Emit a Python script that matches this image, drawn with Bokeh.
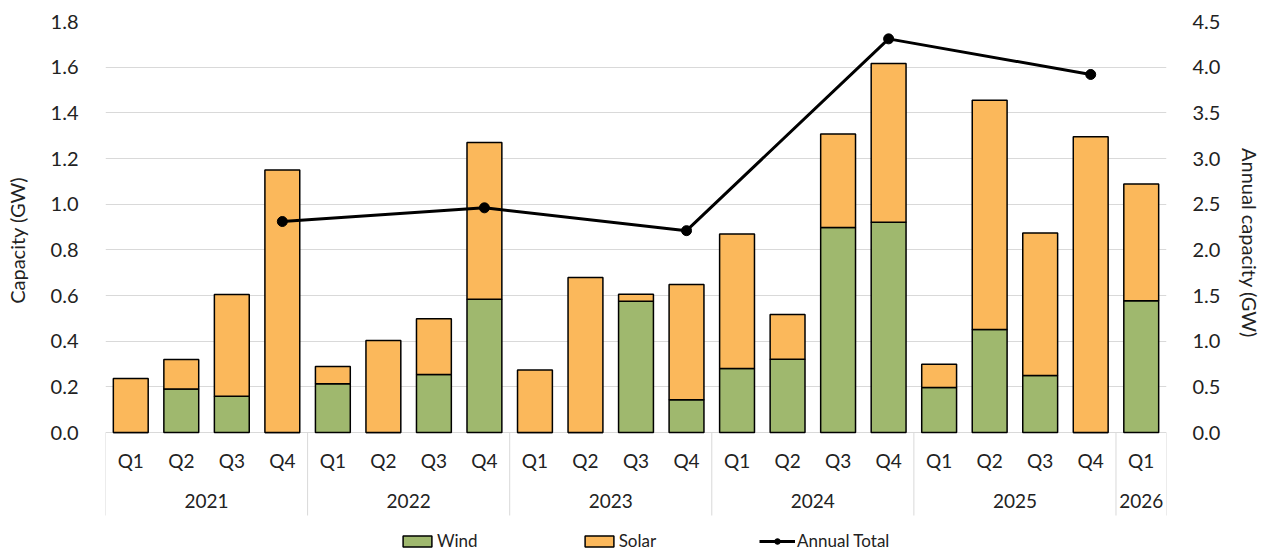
import numpy as np
from bokeh.plotting import figure
from bokeh.models import (FactorRange, Range1d, LinearAxis, FixedTicker,
                          NumeralTickFormatter, ColumnDataSource, Legend,
                          LegendItem)
from bokeh.core.properties import value
from bokeh.embed import file_html
from bokeh.resources import INLINE

# ---- data ---------------------------------------------------------------
years = ["2021"] * 4 + ["2022"] * 4 + ["2023"] * 4 + ["2024"] * 4 + ["2025"] * 4 + ["2026"]
quarters = ["Q1", "Q2", "Q3", "Q4"] * 5 + ["Q1"]

wind = [0.000, 0.190, 0.159, 0.000,
        0.213, 0.000, 0.254, 0.584,
        0.000, 0.000, 0.575, 0.143,
        0.280, 0.321, 0.898, 0.921,
        0.197, 0.451, 0.250, 0.000,
        0.577]
solar = [0.236, 0.130, 0.445, 1.150,
         0.076, 0.403, 0.244, 0.686,
         0.274, 0.679, 0.031, 0.505,
         0.589, 0.196, 0.409, 0.695,
         0.102, 1.004, 0.624, 1.295,
         0.511]

annual_years = ["2021", "2022", "2023", "2024", "2025"]
annual_total = [2.31, 2.46, 2.21, 4.31, 3.92]

left_ticks = [0.0, 0.2, 0.4, 0.6, 0.8, 1.0, 1.2, 1.4, 1.6, 1.8]
right_ticks = [0.0, 0.5, 1.0, 1.5, 2.0, 2.5, 3.0, 3.5, 4.0, 4.5]

# ---- layout constants (pixels) ------------------------------------------
W, H = 1265, 551
FRAME_L, FRAME_R, FRAME_T = 105, 1166, 21
ZERO_PX = 432            # baseline of the bars
SEP_BOTTOM_PX = 515      # lower end of the category separators
QLABEL_PX, YLABEL_PX = 460, 500

LEFT_MAX, RIGHT_MAX = 1.8, 4.5
ratio = RIGHT_MAX / LEFT_MAX
per_px = LEFT_MAX / (ZERO_PX - FRAME_T)
def px_to_left(py):
    return (ZERO_PX - py) * per_px

y_start = px_to_left(H)
right_start = y_start * ratio

GREEN = "#9FB86E"
ORANGE = "#FBB85B"
GRID = "#D9D9D9"
TEXT = "#222222"
FONT = "Lato"
TICK_SIZE = "20px"
CAT_SIZE = "19px"
TITLE_SIZE = "20px"

# The frame runs down to the legend, so axis titles are nudged up to sit
# beside the 0-1.8 value band with non-breaking padding.
NBSP = "\u00a0"
left_title = NBSP * 18 + "Capacity (GW)"
right_title = "Annual capacity (GW)" + NBSP * 17

factors = list(zip(years, quarters))
x_range = FactorRange(*factors, range_padding=0, group_padding=0,
                      subgroup_padding=0, factor_padding=0)

p = figure(width=W, height=H, x_range=x_range,
           y_range=Range1d(y_start, LEFT_MAX),
           x_axis_location=None,
           output_backend="svg", toolbar_location=None,
           min_border_left=FRAME_L, min_border_right=W - FRAME_R,
           min_border_top=FRAME_T, min_border_bottom=0)
p.outline_line_color = None
p.background_fill_color = "white"
p.xgrid.visible = False

# left axis
yax = p.yaxis[0]
yax.ticker = FixedTicker(ticks=left_ticks)
yax.formatter = NumeralTickFormatter(format="0.0")
yax.axis_line_color = None
yax.major_tick_line_color = None
yax.minor_tick_line_color = None
yax.major_label_standoff = 21
yax.major_label_text_font = FONT
yax.major_label_text_font_size = TICK_SIZE
yax.major_label_text_color = TEXT
yax.axis_label = left_title
yax.axis_label_standoff = 19
yax.axis_label_text_font = FONT
yax.axis_label_text_font_size = TITLE_SIZE
yax.axis_label_text_font_style = "normal"
yax.axis_label_text_color = TEXT

p.ygrid.ticker = FixedTicker(ticks=left_ticks)
p.ygrid.grid_line_color = GRID
p.ygrid.grid_line_width = 1

# right axis for the annual totals
p.extra_y_ranges = {"annual": Range1d(right_start, RIGHT_MAX)}
rax = LinearAxis(y_range_name="annual",
                 ticker=FixedTicker(ticks=right_ticks),
                 formatter=NumeralTickFormatter(format="0.0"))
rax.axis_line_color = None
rax.major_tick_line_color = None
rax.minor_tick_line_color = None
rax.major_label_standoff = 20
rax.major_label_text_font = FONT
rax.major_label_text_font_size = TICK_SIZE
rax.major_label_text_color = TEXT
rax.axis_label = right_title
rax.axis_label_standoff = 15
rax.axis_label_text_font = FONT
rax.axis_label_text_font_size = TITLE_SIZE
rax.axis_label_text_font_style = "normal"
rax.axis_label_text_color = TEXT
p.add_layout(rax, "right")

# stacked quarterly bars
src = ColumnDataSource(dict(x=factors, wind=wind, solar=solar))
bars = p.vbar_stack(["wind", "solar"], x="x", width=0.69, source=src,
                    fill_color=[GREEN, ORANGE], line_color="black",
                    line_width=1.5)

# annual total line, plotted at each year's Q4
ann_src = ColumnDataSource(dict(x=[(y, "Q4") for y in annual_years],
                                total=annual_total))
line = p.line("x", "total", source=ann_src, y_range_name="annual",
              line_color="black", line_width=3)
dots = p.scatter("x", "total", source=ann_src, y_range_name="annual",
                 size=10, fill_color="black", line_color="black")

# two-level category labels with separators
group_names = list(dict.fromkeys(years))
group_sizes = [years.count(g) for g in group_names]
bounds = np.concatenate([[0], np.cumsum(group_sizes)]).astype(float)
sep_bottom = px_to_left(SEP_BOTTOM_PX)
p.segment(x0=bounds, x1=bounds, y0=[0.0] * len(bounds),
          y1=[sep_bottom] * len(bounds), line_color=GRID, line_width=1)

p.text(x=factors, y=[px_to_left(QLABEL_PX)] * len(factors), text=quarters,
       text_align="center", text_baseline="middle",
       text_font=value(FONT), text_font_size=CAT_SIZE, text_color=TEXT)
p.text(x=group_names, y=[px_to_left(YLABEL_PX)] * len(group_names),
       text=group_names, text_align="center", text_baseline="middle",
       text_font=value(FONT), text_font_size=CAT_SIZE, text_color=TEXT)

legend = Legend(items=[LegendItem(label="Wind", renderers=[bars[0]]),
                       LegendItem(label="Solar", renderers=[bars[1]]),
                       LegendItem(label="Annual Total", renderers=[line, dots])],
                orientation="horizontal", location=(294, 0),
                background_fill_alpha=0, border_line_color=None,
                padding=0, margin=0, spacing=103,
                glyph_width=36, glyph_height=14, label_standoff=2,
                label_text_font=FONT, label_text_font_size="17px",
                label_text_color=TEXT)
p.add_layout(legend)

open("out.html", "w").write(file_html(p, INLINE))
